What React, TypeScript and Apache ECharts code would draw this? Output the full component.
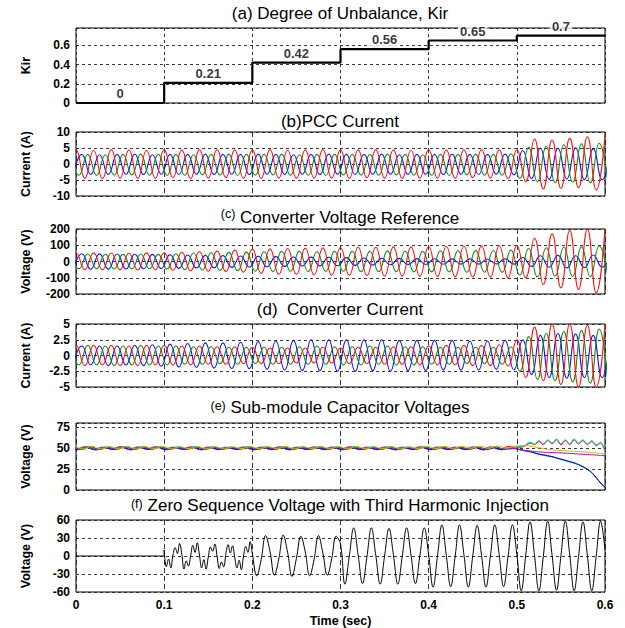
import React, { useEffect, useRef } from "react";
import * as echarts from "echarts";

// ---------- (a) Degree of unbalance ----------
const STEP_TIMES = [0, 0.1, 0.2, 0.3, 0.4, 0.5, 0.6];
const KIR_LEVELS = [0, 0.21, 0.42, 0.56, 0.65, 0.7];

// ---------- waveform sampling (extrema of the 50 Hz waves) ----------
const HALF = 0.01; // half period of 50 Hz
const SHIFT_RED = 0;
const SHIFT_GREEN = 1 / 300;
const SHIFT_BLUE = 2 / 300;

// (b) PCC current extrema (A)
const PCC_RED = [-4.4,
  4.4, -4.5, 4.3, -4.6, 4.5, -4.4, 4.4, -4.5, 4.3, -4.5,
  4.5, -4.3, 4.4, -4.6, 4.5, -4.4, 4.5, -4.3, 4.4, -4.5,
  4.4, -4.5, 4.5, -4.4, 4.3, -4.5, 4.4, -4.4, 4.5, -4.4,
  4.4, -4.5, 4.4, -4.3, 4.5, -4.4, 4.4, -4.5, 4.3, -4.4,
  4.5, -4.4, 4.4, -4.5, 4.4, -4.3, 4.5, -4.4, 4.4, -4.6,
  4.4, -5.5, 7.8, -7.8, 7.5, -7.6, 8.0, -7.4, 8.5, -8.1, 9.0];
const PCC_BLUE = [-3.2,
  3.0, -3.3, 2.9, -3.3, 3.0, -3.2, 3.1, -3.3, 2.9, -3.2,
  3.0, -3.3, 3.0, -3.2, 3.1, -3.3, 3.0, -3.2, 3.0, -3.3,
  3.1, -3.2, 3.0, -3.3, 2.9, -3.2, 3.0, -3.3, 3.1, -3.2,
  3.0, -3.3, 3.0, -3.2, 3.1, -3.2, 2.9, -3.3, 3.0, -3.2,
  3.0, -3.3, 3.1, -3.2, 3.0, -3.3, 3.0, -3.2, 3.1, -3.4,
  4.2, -4.6, 5.0, -4.8, 4.9, -4.7, 5.1, -4.9, 4.8, -5.0, 5.1];
const PCC_GREEN = [3.0,
  -3.5, 3.0, -3.6, 2.9, -3.5, 3.0, -3.4, 3.1, -3.5, 3.0,
  -3.6, 3.0, -3.5, 2.9, -3.4, 3.0, -3.5, 3.1, -3.6, 3.0,
  -3.5, 3.0, -3.4, 3.1, -3.5, 2.9, -3.5, 3.0, -3.6, 3.0,
  -3.4, 3.0, -3.5, 3.0, -3.5, 3.1, -3.4, 3.0, -3.5, 2.9,
  -3.5, 3.0, -3.6, 3.0, -3.4, 3.1, -3.5, 3.0, -3.5, 3.2,
  -4.5, 5.2, -5.6, 5.5, -5.8, 6.0, -5.7, 6.3, -5.9, 6.5, -6.1];

// (c) Converter voltage reference extrema (V)
const CVR_RED = [-52,
  52, -50, 53, -51, 52, -50, 51, -52, 53, -51,
  54, -54, 57, -57, 60, -60, 64, -62, 70, -66,
  76, -74, 78, -78, 80, -80, 82, -82, 84, -84,
  86, -86, 88, -88, 88, -90, 90, -90, 90, -92,
  92, -92, 94, -94, 95, -95, 96, -96, 97, -100,
  98, -100, 143, -141, 170, -162, 191, -173, 200, -193, 210];
const CVR_GREEN = [45,
  -45, 46, -44, 45, -46, 44, -45, 46, -45, 44,
  -46, 48, -50, 52, -52, 54, -55, 56, -56, 58,
  -60, 60, -62, 62, -60, 62, -62, 60, -61, 62,
  -60, 62, -63, 62, -62, 64, -62, 63, -64, 62,
  -64, 66, -65, 66, -66, 67, -66, 68, -67, 70,
  -85, 80, -95, 85, -90, 88, -92, 90, -95, 95, -90];
const CVR_BLUE = [-48,
  48, -48, 47, -47, 46, -46, 45, -45, 44, -44,
  42, -42, 40, -40, 38, -38, 36, -36, 34, -34,
  32, -32, 30, -30, 28, -28, 27, -27, 26, -26,
  24, -24, 22, -22, 20, -20, 19, -19, 18, -18,
  17, -17, 16, -16, 16, -16, 15, -15, 16, -16,
  25, -30, 35, -35, 38, -40, 35, -38, 40, -35, 38];

// (d) Converter current extrema (A)
const CC_RED = [-1.6,
  1.6, -1.6, 1.6, -1.5, 1.6, -1.6, 1.5, -1.6, 1.6, -1.5,
  1.6, -1.5, 1.5, -1.5, 1.5, -1.4, 1.4, -1.4, 1.4, -1.3,
  1.3, -1.3, 1.2, -1.3, 1.2, -1.2, 1.2, -1.2, 1.3, -1.2,
  1.2, -1.3, 1.3, -1.3, 1.3, -1.4, 1.4, -1.4, 1.4, -1.5,
  1.5, -1.5, 1.6, -1.5, 1.6, -1.6, 1.6, -1.6, 1.7, -1.7,
  2.5, -3.5, 4.5, -4.0, 5.0, -4.6, 5.0, -5.0, 4.8, -5.0, 5.0];
const CC_BLUE = [-1.5,
  1.5, -1.5, 1.5, -1.6, 1.5, -1.5, 1.6, -1.6, 1.7, -1.7,
  1.8, -1.8, 1.9, -1.9, 2.0, -2.0, 2.0, -2.1, 2.1, -2.1,
  2.2, -2.2, 2.3, -2.3, 2.4, -2.4, 2.5, -2.4, 2.5, -2.5,
  2.5, -2.5, 2.5, -2.4, 2.5, -2.5, 2.4, -2.4, 2.4, -2.4,
  2.4, -2.3, 2.4, -2.3, 2.3, -2.3, 2.3, -2.2, 2.4, -2.3,
  2.5, -3.0, 3.2, -3.5, 3.5, -3.6, 3.4, -3.5, 3.2, -3.5, 3.0];
const CC_GREEN = [1.5,
  -1.5, 1.6, -1.5, 1.5, -1.6, 1.5, -1.5, 1.6, -1.5, 1.5,
  -1.5, 1.5, -1.4, 1.4, -1.4, 1.4, -1.3, 1.3, -1.4, 1.3,
  -1.3, 1.3, -1.4, 1.3, -1.4, 1.4, -1.4, 1.5, -1.4, 1.4,
  -1.5, 1.4, -1.5, 1.5, -1.4, 1.5, -1.5, 1.4, -1.5, 1.4,
  -1.4, 1.3, -1.4, 1.3, -1.3, 1.3, -1.3, 1.3, -1.4, 1.4,
  -2.5, 3.0, -3.8, 3.5, -4.0, 3.8, -4.2, 4.0, -4.4, 4.2, -4.5];

// (e) Sub-module capacitor voltages (V): ripple extrema before 0.5 s, then 5 ms samples
const E_SHIFTS = [0, 0.0017, 0.0033, 0.005, 0.0067, 0.0083];
const E_RED_PRE = [51.6, 48.4, 51.9, 48.2, 51.3, 48.7, 51.8, 48.3, 51.5, 48.9,
  51.7, 48.5, 51.2, 48.8, 51.6, 48.4, 51.4, 48.6, 51.1, 48.9,
  51.5, 48.5, 51.3, 48.7, 51.6, 48.4, 51.2, 48.8, 51.5, 48.6,
  51.4, 48.5, 51.7, 48.7, 51.3, 48.6, 51.5, 48.4, 51.2, 48.8,
  51.6, 48.5, 51.4, 48.7, 51.3, 48.6, 51.5, 48.4, 51.6, 48.7, 51.8];
const E_GREEN_PRE = [51.0, 48.0, 51.3, 47.8, 50.8, 48.2, 51.2, 47.9, 50.9, 48.3,
  51.1, 48.0, 50.7, 48.3, 51.0, 47.9, 50.8, 48.1, 50.6, 48.4,
  50.9, 48.0, 50.8, 48.2, 51.0, 47.9, 50.7, 48.3, 50.9, 48.1,
  50.8, 48.0, 51.1, 48.2, 50.7, 48.1, 50.9, 47.9, 50.6, 48.3,
  51.0, 48.0, 50.8, 48.2, 50.7, 48.1, 50.9, 47.8, 50.8, 48.0, 50.5];
const E_BLUE_PRE = [51.2, 48.2, 51.4, 47.9, 51.0, 48.3, 51.3, 48.0, 51.1, 48.4,
  51.2, 48.1, 50.9, 48.4, 51.1, 48.0, 51.0, 48.2, 50.8, 48.5,
  51.0, 48.1, 50.9, 48.3, 51.1, 48.0, 50.8, 48.4, 51.0, 48.2,
  50.9, 48.1, 51.2, 48.3, 50.8, 48.2, 51.0, 48.0, 50.7, 48.4,
  51.1, 48.1, 50.9, 48.3, 50.8, 48.2, 51.0, 47.9, 50.9, 48.1, 50.3];
const E_CYAN_PRE = [52.0, 48.8, 52.2, 48.6, 51.7, 49.0, 52.1, 48.7, 51.8, 49.1,
  52.0, 48.9, 51.6, 49.1, 51.9, 48.8, 51.7, 49.0, 51.5, 49.2,
  51.8, 48.9, 51.7, 49.1, 51.9, 48.8, 51.6, 49.2, 51.8, 49.0,
  51.7, 48.9, 52.0, 49.1, 51.6, 49.0, 51.8, 48.8, 51.5, 49.2,
  51.9, 48.9, 51.7, 49.1, 51.6, 49.0, 51.8, 48.7, 51.9, 49.0, 51.0];
const E_MAGENTA_PRE = [51.4, 48.3, 51.6, 48.1, 51.1, 48.5, 51.5, 48.2, 51.2, 48.6,
  51.4, 48.3, 51.0, 48.6, 51.3, 48.2, 51.1, 48.4, 50.9, 48.7,
  51.2, 48.3, 51.1, 48.5, 51.3, 48.2, 51.0, 48.6, 51.2, 48.4,
  51.1, 48.3, 51.4, 48.5, 51.0, 48.4, 51.2, 48.2, 50.9, 48.6,
  51.3, 48.3, 51.1, 48.5, 51.0, 48.4, 51.2, 48.1, 51.1, 48.3, 49.6];
const E_YELLOW_PRE = [52.1, 49.0, 52.3, 48.8, 51.8, 49.2, 52.2, 48.9, 51.9, 49.3,
  52.1, 49.1, 51.7, 49.3, 52.0, 49.0, 51.8, 49.2, 51.6, 49.4,
  51.9, 49.1, 51.8, 49.3, 52.0, 49.0, 51.7, 49.4, 51.9, 49.2,
  51.8, 49.1, 52.1, 49.3, 51.7, 49.2, 51.9, 49.0, 51.6, 49.4,
  52.0, 49.4, 52.2, 49.6, 52.3, 49.7, 52.5, 49.8, 52.6, 50.0, 52.4];
const E_RED_POST = [51, 53, 56, 54, 58, 54, 59, 55, 60, 54, 59, 54, 60, 55, 59, 54, 58, 53, 56, 47];
const E_GREEN_POST = [47.5, 46.5, 45.5, 44, 42.5, 41.5, 40.5, 39.5, 38, 36.5, 35, 33.5, 32, 30, 27.5, 24.5, 20.5, 14.5, 8, 3];
const E_BLUE_POST = [48, 47, 46, 44.5, 43, 42, 41, 40, 38.5, 37, 35.5, 34, 32.5, 30.5, 28, 25, 21, 15, 8.5, 3.5];
const E_CYAN_POST = [52, 54, 57, 55, 59, 55, 60, 56, 61, 55, 60, 55, 61, 56, 60, 55, 59, 54, 57, 46];
const E_MAGENTA_POST = [48, 47, 46.5, 46, 45.5, 45.2, 45, 44.8, 44.5, 44.3, 44, 43.7, 43.4, 43, 42.7, 42.4, 42, 41.7, 41.3, 41];
const E_YELLOW_POST = [53, 53, 52.4, 51.5, 50.5, 49.5, 48.5, 48, 47.6, 47.2, 46.8, 46.5, 46.2, 45.9, 45.6, 45.2, 44.7, 44.2, 43.6, 43];

// (f) Zero sequence voltage (V)
const ZS_IDLE_TIMES = [0, 0.1];
const ZS_IDLE = [0, 0];
const ZS_LOW = [
  10, -18, -5, -20, 2, 14, 4, 21,
  3, -22, -8, -17, 0, 18, 6, 22,
  2, -20, -6, -22, -2, 15, 8, 20,
  0, -21, -10, -18, 4, 19, 5, 17,
  -2, -20, -7, -23, 0, 16, 6, 24];
const ZS_HIGH = [
  4, -33, -6, 34, 8, -32, -5, 35, 6, -34, -4, 33, 7, -33, -6, 34, 5, -32, -5, 33,
  20, -47, 0, 47, 2, -46, -1, 47, 1, -47, 0, 46, 2, -47, -1, 47, 1, -46, 0, 47,
  2, -52, 0, 52, 1, -51, -1, 52, 2, -52, 0, 51, 1, -52, 0, 52, 2, -51, -1, 52,
  3, -58, 0, 57, 2, -58, -1, 58, 1, -57, 0, 58, 2, -58, -1, 57, 1, -58, 0, 58, 10];

// ---------- labels ----------
const TITLES = [
  "(a) Degree of Unbalance, Kir",
  "(b)PCC Current",
  "{s|(c)} Converter Voltage {r|Reference}",
  "(d)  Converter Current",
  "{s|(e)} Sub-module Capacitor Voltages",
  "{s|(f)} Zero Sequence Voltage with Third Harmonic Injection",
];
const Y_NAMES = ["Kir", "Current (A)", "Voltage (V)", "Current (A)", "Voltage (V)", "Voltage (V)"];
const Y_MIN = [0, -10, -200, -5, 0, -60];
const Y_MAX = [0.78, 10, 200, 5, 80, 60];
const Y_STEP = [0.2, 5, 100, 2.5, 25, 30];

const GRID_TOPS = [28, 132, 229, 324, 423, 520];
const GRID_HEIGHTS = [75, 64, 65, 63, 67, 72];
const TITLE_Y = [15, 123, 217, 311, 409, 507];

const RED = "#ff1010";
const GREEN = "#138a13";
const BLUE = "#1010ff";
const E_COLORS = ["#ff0000", "#008000", "#0000ff", "#00bfbf", "#bf00bf", "#bfbf00"];

const FONT = "'Liberation Sans', Arial, sans-serif";

function wave(values: number[], shift: number, step: number, start: number) {
  return values.map((v, k) => [start + shift + k * step, v]);
}

function buildOption() {
  const grid = GRID_TOPS.map((top, i) => ({
    left: 76,
    right: 20,
    top,
    height: GRID_HEIGHTS[i],
    show: true,
    borderColor: "#000",
    borderWidth: 1,
    backgroundColor: "transparent",
  }));

  const xAxis = GRID_TOPS.map((_, i) => ({
    type: "value",
    gridIndex: i,
    min: 0,
    max: 0.6,
    interval: 0.1,
    axisLine: { show: false },
    axisTick: { show: false },
    axisLabel: {
      show: i === 5,
      color: "#000",
      fontWeight: "bold",
      fontSize: 12,
      fontFamily: FONT,
      margin: 7,
    },
    name: i === 5 ? "Time (sec)" : "",
    nameLocation: "middle",
    nameGap: 22,
    nameTextStyle: { color: "#000", fontWeight: "bold", fontSize: 12.5, fontFamily: FONT },
    splitLine: {
      show: true,
      lineStyle: { color: "#222", width: 0.9, type: i === 0 ? [3, 3] : [5, 3] },
    },
  }));

  const yAxis = GRID_TOPS.map((_, i) => ({
    type: "value",
    gridIndex: i,
    min: Y_MIN[i],
    max: Y_MAX[i],
    interval: Y_STEP[i],
    axisLine: { show: false },
    axisTick: { show: false },
    axisLabel: {
      color: "#000",
      fontWeight: "bold",
      fontSize: 12,
      fontFamily: FONT,
      margin: 6,
      formatter: (v: number) => {
        const r = v / Y_STEP[i];
        if (Math.abs(r - Math.round(r)) > 1e-6) return "";
        return String(parseFloat(v.toFixed(3)));
      },
    },
    name: Y_NAMES[i],
    nameLocation: "middle",
    nameRotate: 90,
    nameGap: 44,
    nameTextStyle: { color: "#000", fontWeight: "bold", fontSize: 12.5, fontFamily: FONT },
    splitLine: {
      show: true,
      lineStyle: { color: "#222", width: 0.9, type: [3, 3] },
    },
  }));

  const title = TITLES.map((text, i) => ({
    text,
    left: 340,
    top: TITLE_Y[i] - 10,
    textAlign: "center",
    padding: 0,
    textStyle: {
      color: "#000",
      fontSize: 17,
      fontWeight: "normal",
      fontFamily: FONT,
      rich: {
        s: { fontSize: 12.5, color: "#000", fontFamily: FONT, verticalAlign: "top" },
        r: { fontSize: 17, color: "#000", fontFamily: FONT, padding: [3, 0, 0, 0] },
      },
    },
  }));

  const lineBase = (i: number, color: string, width: number, data: number[][], smooth: number | boolean) => ({
    type: "line",
    xAxisIndex: i,
    yAxisIndex: i,
    data,
    showSymbol: false,
    symbol: "none",
    smooth,
    clip: true,
    lineStyle: { color, width },
    itemStyle: { color },
    silent: true,
  });

  const series: any[] = [];

  // (a)
  const stepData = STEP_TIMES.map((t, k) => [t, KIR_LEVELS[Math.min(k, KIR_LEVELS.length - 1)]]);
  series.push({ ...lineBase(0, "#000", 2.2, stepData, false), step: "end" });
  series.push({
    type: "scatter",
    xAxisIndex: 0,
    yAxisIndex: 0,
    symbolSize: 0,
    silent: true,
    data: KIR_LEVELS.map((v, k) => [(STEP_TIMES[k] + STEP_TIMES[k + 1]) / 2, v]),
    label: {
      show: true,
      position: "top",
      distance: 3,
      formatter: (p: any) => String(p.value[1]),
      color: "#000",
      fontWeight: "bold",
      fontSize: 13,
      fontFamily: FONT,
      backgroundColor: "#fff",
      padding: [0, 2, 0, 2],
    },
    z: 5,
  });

  // (b), (c), (d)
  const three = [
    [PCC_BLUE, PCC_GREEN, PCC_RED],
    [CVR_BLUE, CVR_GREEN, CVR_RED],
    [CC_BLUE, CC_GREEN, CC_RED],
  ];
  three.forEach((set, j) => {
    const i = j + 1;
    series.push(lineBase(i, BLUE, 1.1, wave(set[0], SHIFT_BLUE, HALF, -HALF), 0.5));
    series.push(lineBase(i, GREEN, 1.1, wave(set[1], SHIFT_GREEN, HALF, -HALF), 0.5));
    series.push(lineBase(i, RED, 1.1, wave(set[2], SHIFT_RED, HALF, -HALF), 0.5));
  });

  // (e)
  const ePre = [E_RED_PRE, E_GREEN_PRE, E_BLUE_PRE, E_CYAN_PRE, E_MAGENTA_PRE, E_YELLOW_PRE];
  const ePost = [E_RED_POST, E_GREEN_POST, E_BLUE_POST, E_CYAN_POST, E_MAGENTA_POST, E_YELLOW_POST];
  ePre.forEach((pre, c) => {
    const data = wave(pre, E_SHIFTS[c], 0.01, -0.01).concat(wave(ePost[c], 0, 0.005, 0.505));
    series.push(lineBase(4, E_COLORS[c], 1, data, 0.3));
  });

  // (f)
  const zs = ZS_IDLE.map((v, k) => [ZS_IDLE_TIMES[k], v])
    .concat(wave(ZS_LOW, 0, 0.0025, 0.1))
    .concat(wave(ZS_HIGH, 0, 0.005, 0.2));
  series.push(lineBase(5, "#000", 1, zs, 0.4));

  return {
    animation: false,
    backgroundColor: "#fff",
    title,
    grid,
    xAxis,
    yAxis,
    series,
  };
}

export default function App() {
  const ref = useRef<HTMLDivElement>(null);
  useEffect(() => {
    const chart = echarts.init(ref.current!, null, { renderer: "svg" });
    chart.setOption(buildOption() as any);
    return () => chart.dispose();
  }, []);
  return (
    <div
      ref={ref}
      style={{ position: "absolute", left: 0, top: 0, width: 625, height: 628, background: "#fff" }}
    />
  );
}
